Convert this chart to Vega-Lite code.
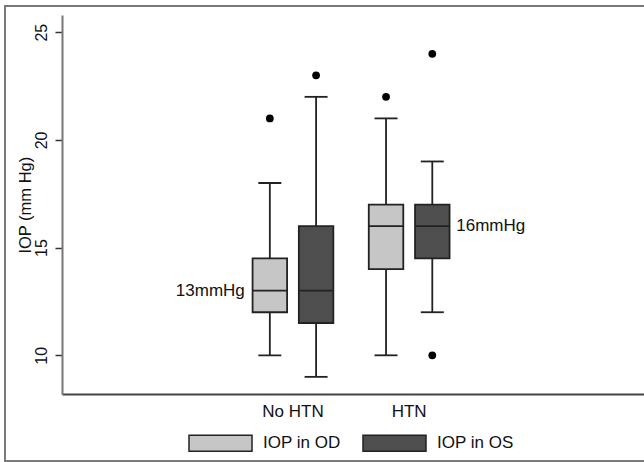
{
  "$schema": "https://vega.github.io/schema/vega-lite/v6.json",
  "autosize": "none",
  "width": 700,
  "height": 455,
  "padding": {"left": 5, "top": 6, "right": -61, "bottom": 1},
  "config": {
    "font": "Liberation Sans",
    "view": {"stroke": "#7a7a7a", "strokeWidth": 2},
    "axisY": {"offset": -57, "grid": false, "labelAngle": -90, "labelAlign": "center", "labelBaseline": "alphabetic", "labelPadding": 9, "tickSize": 7, "tickColor": "#333", "tickWidth": 1.5, "domainColor": "#777", "domainWidth": 2, "labelFontSize": 16, "labelColor": "#111", "titleFontSize": 16.5, "titleFontWeight": "normal", "titleColor": "#111", "titlePadding": 0},
    "axisX": {"offset": -67, "grid": false, "ticks": false, "domainColor": "#444", "domainWidth": 2, "labelFontSize": 17, "labelPadding": 9, "labelColor": "#111", "labelAngle": 0}
  },
  "datasets": {
    "boxes": [
      {"group": "No HTN", "eye": "IOP in OD", "lower": 10, "q1": 12, "median": 13, "q3": 14.5, "upper": 18},
      {"group": "No HTN", "eye": "IOP in OS", "lower": 9, "q1": 11.5, "median": 13, "q3": 16, "upper": 22},
      {"group": "HTN", "eye": "IOP in OD", "lower": 10, "q1": 14, "median": 16, "q3": 17, "upper": 21},
      {"group": "HTN", "eye": "IOP in OS", "lower": 12, "q1": 14.5, "median": 16, "q3": 17, "upper": 19}
    ],
    "outliers": [
      {"group": "No HTN", "eye": "IOP in OD", "value": 21},
      {"group": "No HTN", "eye": "IOP in OS", "value": 23},
      {"group": "HTN", "eye": "IOP in OD", "value": 22},
      {"group": "HTN", "eye": "IOP in OS", "value": 24},
      {"group": "HTN", "eye": "IOP in OS", "value": 10}
    ],
    "notes": [
      {"group": "No HTN", "eye": "IOP in OD", "value": 13, "label": "13mmHg", "side": "left"},
      {"group": "HTN", "eye": "IOP in OS", "value": 16, "label": "16mmHg", "side": "right"}
    ]
  },
  "layer": [
    {
      "data": {"name": "boxes"},
      "mark": {"type": "rule", "stroke": "#222", "strokeWidth": 1.8},
      "encoding": {
        "x": {
          "field": "group", "type": "nominal", "title": null,
          "scale": {"domain": [" ", "No HTN", "HTN", "  "], "range": [57, 650], "paddingInner": 0, "paddingOuter": 0.5516, "align": 0.442, "round": false}
        },
        "xOffset": {
          "field": "eye", "type": "nominal",
          "scale": {"domain": ["IOP in OD", "IOP in OS"], "paddingInner": 0.254, "paddingOuter": 0.383, "round": false}
        },
        "y": {
          "field": "lower", "type": "quantitative", "title": "IOP (mm Hg)",
          "scale": {"domain": [8.19, 25.8], "range": [388.3, 9], "nice": false, "zero": false},
          "axis": {"values": [10, 15, 20, 25]}
        },
        "y2": {"field": "upper"}
      }
    },
    {
      "data": {"name": "boxes"},
      "mark": {"type": "bar", "stroke": "#222", "strokeWidth": 1.8},
      "encoding": {
        "x": {"field": "group", "type": "nominal", "title": null},
        "xOffset": {"field": "eye", "type": "nominal"},
        "y": {"field": "q1", "type": "quantitative", "title": "IOP (mm Hg)"},
        "y2": {"field": "q3"},
        "fill": {
          "field": "eye", "type": "nominal",
          "scale": {"domain": ["IOP in OD", "IOP in OS"], "range": ["#c6c6c6", "#4e4e4e"]},
          "legend": {"orient": "none", "legendX": 183, "legendY": 404.5, "direction": "horizontal", "title": null, "symbolType": "M-1,-0.254H1V0.254H-1Z", "symbolSize": 3969, "symbolStrokeColor": "#222", "symbolStrokeWidth": 1.5, "symbolOpacity": 1, "labelFontSize": 17, "labelColor": "#111", "labelOffset": 10, "columnPadding": 19, "padding": 0}
        }
      }
    },
    {
      "data": {"name": "boxes"},
      "mark": {"type": "tick", "color": "#222", "size": 34.5, "thickness": 1.8, "opacity": 1},
      "encoding": {
        "x": {"field": "group", "type": "nominal", "title": null},
        "xOffset": {"field": "eye", "type": "nominal"},
        "y": {"field": "median", "type": "quantitative", "title": "IOP (mm Hg)"}
      }
    },
    {
      "data": {"name": "boxes"},
      "mark": {"type": "tick", "color": "#222", "size": 23, "thickness": 1.8, "opacity": 1},
      "encoding": {
        "x": {"field": "group", "type": "nominal", "title": null},
        "xOffset": {"field": "eye", "type": "nominal"},
        "y": {"field": "lower", "type": "quantitative", "title": "IOP (mm Hg)"}
      }
    },
    {
      "data": {"name": "boxes"},
      "mark": {"type": "tick", "color": "#222", "size": 23, "thickness": 1.8, "opacity": 1},
      "encoding": {
        "x": {"field": "group", "type": "nominal", "title": null},
        "xOffset": {"field": "eye", "type": "nominal"},
        "y": {"field": "upper", "type": "quantitative", "title": "IOP (mm Hg)"}
      }
    },
    {
      "data": {"name": "outliers"},
      "mark": {"type": "point", "filled": true, "color": "#000", "size": 60, "opacity": 1},
      "encoding": {
        "x": {"field": "group", "type": "nominal", "title": null},
        "xOffset": {"field": "eye", "type": "nominal"},
        "y": {"field": "value", "type": "quantitative", "title": "IOP (mm Hg)"}
      }
    },
    {
      "data": {"name": "notes"},
      "transform": [{"filter": "datum.side === 'left'"}],
      "mark": {"type": "text", "align": "right", "baseline": "middle", "dx": -25, "fontSize": 17, "color": "#111"},
      "encoding": {
        "x": {"field": "group", "type": "nominal", "title": null},
        "xOffset": {"field": "eye", "type": "nominal"},
        "y": {"field": "value", "type": "quantitative", "title": "IOP (mm Hg)"},
        "text": {"field": "label"}
      }
    },
    {
      "data": {"name": "notes"},
      "transform": [{"filter": "datum.side === 'right'"}],
      "mark": {"type": "text", "align": "left", "baseline": "middle", "dx": 24, "fontSize": 17, "color": "#111"},
      "encoding": {
        "x": {"field": "group", "type": "nominal", "title": null},
        "xOffset": {"field": "eye", "type": "nominal"},
        "y": {"field": "value", "type": "quantitative", "title": "IOP (mm Hg)"},
        "text": {"field": "label"}
      }
    }
  ]
}
